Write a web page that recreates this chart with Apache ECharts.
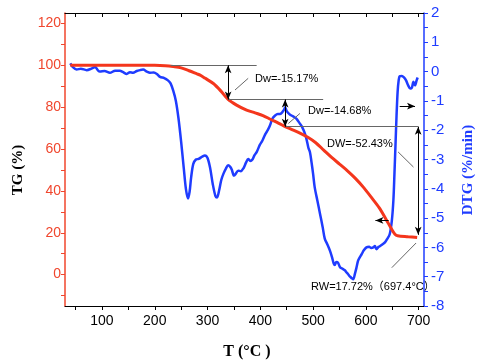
<!DOCTYPE html>
<html>
<head>
<meta charset="utf-8">
<script src="https://cdn.jsdelivr.net/npm/echarts@6/dist/echarts.min.js"></script>
<style>html,body{margin:0;padding:0;background:#fff}#c{width:483px;height:364px}</style>
</head>
<body>
<div id="c"></div>
<script>
// Temperature (°C) and TG (%) of the red curve
const tgT   = [40,100,150,200,220,235,250,265,280,286,295,311,325,339,355,374,390,405,420,435,447,460,475,490,505,520,535,550,565,580,595,610,625,638,648,655,660,680,697];
const tgVal = [100,100,100,100,99.8,99.4,98.8,97.4,95.9,95.3,93.9,91.3,87.8,83.7,81.0,78.6,77.3,76.0,74.1,72.3,70.7,69.3,67.6,65.6,63.0,59.5,56.0,52.8,49.6,46.0,41.8,37.0,32.0,26.5,22.0,19.3,18.6,18.1,17.7];

// Temperature (°C) and DTG (%/min) of the blue curve
const dtgT   = [40,45,52,60,71,80,87,92,96,105,115,125,134,140,147,153,159,166,172,178,185,191,198,204,210,218,225,230,235,240,245,250,255,259,263,266,269,273,278,283,290,295,300,305,310,315,318,322,326,330,335,339,343,346,350,353,358,363,368,373,377,381,385,389,393,399,404,409,414,418,423,428,433,437,441,445,447,450,455,459,464,469,474,478,482,485,488,491,494,497,500,503,508,513,518,522,527,532,536,539,541,544,547,551,555,560,563,566,570,573,576,579,582,585,588,592,596,601,606,610,614,617,620,624,627,631,636,640,645,649,652,654,656,658,660,662,664,668,672,676,680,684,687,690,693,696,698];
const dtgVal = [0.28,0.15,0.07,0.1,0.05,0.1,0.16,0.05,0.0,0.02,-0.04,0.03,0.03,-0.02,-0.08,-0.02,-0.04,0.02,0.05,0.07,0.0,-0.04,-0.03,-0.08,-0.18,-0.22,-0.3,-0.4,-0.65,-1.0,-1.6,-2.4,-3.3,-4.0,-4.33,-4.1,-3.6,-3.15,-3.0,-2.98,-2.9,-2.86,-2.95,-3.3,-3.85,-4.25,-4.3,-4.05,-3.7,-3.49,-3.3,-3.2,-3.25,-3.35,-3.55,-3.5,-3.38,-3.4,-3.3,-3.1,-2.98,-3.05,-3.0,-2.85,-2.75,-2.5,-2.35,-2.15,-2.0,-1.85,-1.6,-1.5,-1.45,-1.45,-1.4,-1.3,-1.22,-1.35,-1.45,-1.5,-1.55,-1.62,-1.75,-1.85,-2.0,-2.15,-2.35,-2.6,-2.75,-3.1,-3.5,-3.95,-4.4,-4.85,-5.3,-5.7,-5.9,-6.12,-6.35,-6.55,-6.6,-6.5,-6.52,-6.68,-6.72,-6.78,-6.85,-6.91,-7.0,-7.05,-7.09,-6.91,-6.7,-6.46,-6.35,-6.23,-6.1,-6.0,-5.98,-6.02,-6.0,-5.95,-6.06,-5.98,-5.95,-5.9,-5.83,-5.72,-5.55,-5.1,-4.4,-3.5,-2.5,-1.5,-0.7,-0.3,-0.16,-0.15,-0.2,-0.3,-0.47,-0.58,-0.55,-0.35,-0.47,-0.3,-0.2];

// tick labels
const xTickLabels  = [100,200,300,400,500,600,700];
const xTickMarks   = [50,100,150,200,250,300,350,400,450,500,550,600,650,700];
const tgTickLabels = [0,20,40,60,80,100,120];
const tgTickMarks  = [-10,0,10,20,30,40,50,60,70,80,90,100,110,120];
const dtgTickLabels= [-8,-7,-6,-5,-4,-3,-2,-1,0,1,2];
const dtgTickMarks = [-8,-7.5,-7,-6.5,-6,-5.5,-5,-4.5,-4,-3.5,-3,-2.5,-2,-1.5,-1,-0.5,0,0.5,1,1.5,2];

// annotation geometry in data units (T, TG)
const plainLines = [
  [[230,100],[393,100]],
  [[339,83.7],[519,83.7]],
  [[447,70.7],[699,70.7]],
  [[352,88.2],[377,93.8]],
  [[453,72.2],[475,77.0]],
  [[661,58.6],[690,51.4]],
  [[649,3.3],[695,15.1]]
];
const doubleArrows = [
  [[339,100],[339,83.7]],
  [[447,83.7],[447,70.7]],
  [[699,70.7],[699,19.0]]
];
const singleArrows = [
  [[643,25.9],[618,25.9]],
  [[664,80.5],[693,80.5]]
];

const RED = '#f4361c', BLUE = '#1f3cff', LRED = '#f0462d';
const chart = echarts.init(document.getElementById('c'), null, {renderer:'canvas'});

function ml(pairs, sym, color){
  return {
    silent:true, animation:false,
    symbol: sym, symbolSize:[5,8],
    lineStyle:{color:color, width:1, type:'solid'},
    label:{show:false},
    emphasis:{disabled:true},
    data: pairs.map(p=>[{coord:p[0]},{coord:p[1]}])
  };
}

chart.setOption({
  animation:false,
  grid:{left:65,right:59,top:13,bottom:58},
  xAxis:[{
    type:'value', min:30, max:710, position:'bottom',
    axisLine:{onZero:false, lineStyle:{color:'#000',width:1}},
    axisTick:{show:true, inside:false, length:4, customValues:xTickMarks, lineStyle:{color:'#000'}},
    axisLabel:{customValues:xTickLabels, color:'#000', fontSize:14, fontFamily:'Arial', margin:8},
    splitLine:{show:false}
  },{
    type:'value', min:30, max:710, position:'top',
    axisLine:{onZero:false, lineStyle:{color:'#000',width:1}},
    axisTick:{show:true, inside:true, length:4, customValues:xTickMarks, lineStyle:{color:'#000'}},
    axisLabel:{show:false},
    splitLine:{show:false}
  }],
  yAxis:[{
    type:'value', min:-15, max:125, position:'left',
    axisLine:{show:true, onZero:false, lineStyle:{color:LRED,width:1.5}},
    axisTick:{show:true, length:4, customValues:tgTickMarks, lineStyle:{color:LRED}},
    axisLabel:{customValues:tgTickLabels, color:LRED, fontSize:14, fontFamily:'Arial', margin:4},
    splitLine:{show:false}
  },{
    type:'value', min:-8, max:2, position:'right',
    axisLine:{show:true, onZero:false, lineStyle:{color:BLUE,width:1.5}},
    axisTick:{show:true, length:4, customValues:dtgTickMarks, lineStyle:{color:BLUE}},
    axisLabel:{customValues:dtgTickLabels, color:BLUE, fontSize:15, fontFamily:'Arial', margin:7},
    splitLine:{show:false}
  }],
  series:[
    {type:'line', xAxisIndex:0, yAxisIndex:1, data:dtgT.map((t,i)=>[t,dtgVal[i]]),
     showSymbol:false, smooth:0.3, lineStyle:{color:BLUE,width:2.5}, z:2},
    {type:'line', xAxisIndex:0, yAxisIndex:0, data:tgT.map((t,i)=>[t,tgVal[i]]),
     showSymbol:false, smooth:0.3, lineStyle:{color:RED,width:3}, z:3,
     markLine: ml(plainLines,'none','#666')},
    {type:'line', xAxisIndex:0, yAxisIndex:0, data:[], z:4,
     markLine: ml(doubleArrows,['arrow','arrow'],'#000')},
    {type:'line', xAxisIndex:0, yAxisIndex:0, data:[], z:4,
     markLine: ml(singleArrows,['none','arrow'],'#000')}
  ],
  graphic:[
    {type:'text', left:255, top:73, style:{text:'Dw=-15.17%', font:'11px Arial', fill:'#000'}},
    {type:'text', left:308, top:105, style:{text:'Dw=-14.68%', font:'11px Arial', fill:'#000'}},
    {type:'text', left:327, top:138, style:{text:'DW=-52.43%', font:'11px Arial', fill:'#000'}},
    {type:'text', left:311, top:281, style:{text:'RW=17.72%（697.4°C）', font:'11px Arial, "Noto Sans CJK SC"', fill:'#000'}},
    {type:'text', x:18, y:170, rotation:Math.PI/2, style:{text:'TG (%)', font:'bold 15px "Times New Roman", "Liberation Serif", serif', fill:'#000', align:'center', verticalAlign:'middle'}},
    {type:'text', x:468, y:170, rotation:Math.PI/2, style:{text:'DTG (%/min)', font:'bold 15px "Times New Roman", "Liberation Serif", serif', fill:BLUE, align:'center', verticalAlign:'middle'}},
    {type:'text', x:247, y:352, style:{text:'T (°C )', font:'bold 16px "Times New Roman", "Liberation Serif", serif', fill:'#000', align:'center', verticalAlign:'middle'}}
  ]
});
</script>
</body>
</html>
